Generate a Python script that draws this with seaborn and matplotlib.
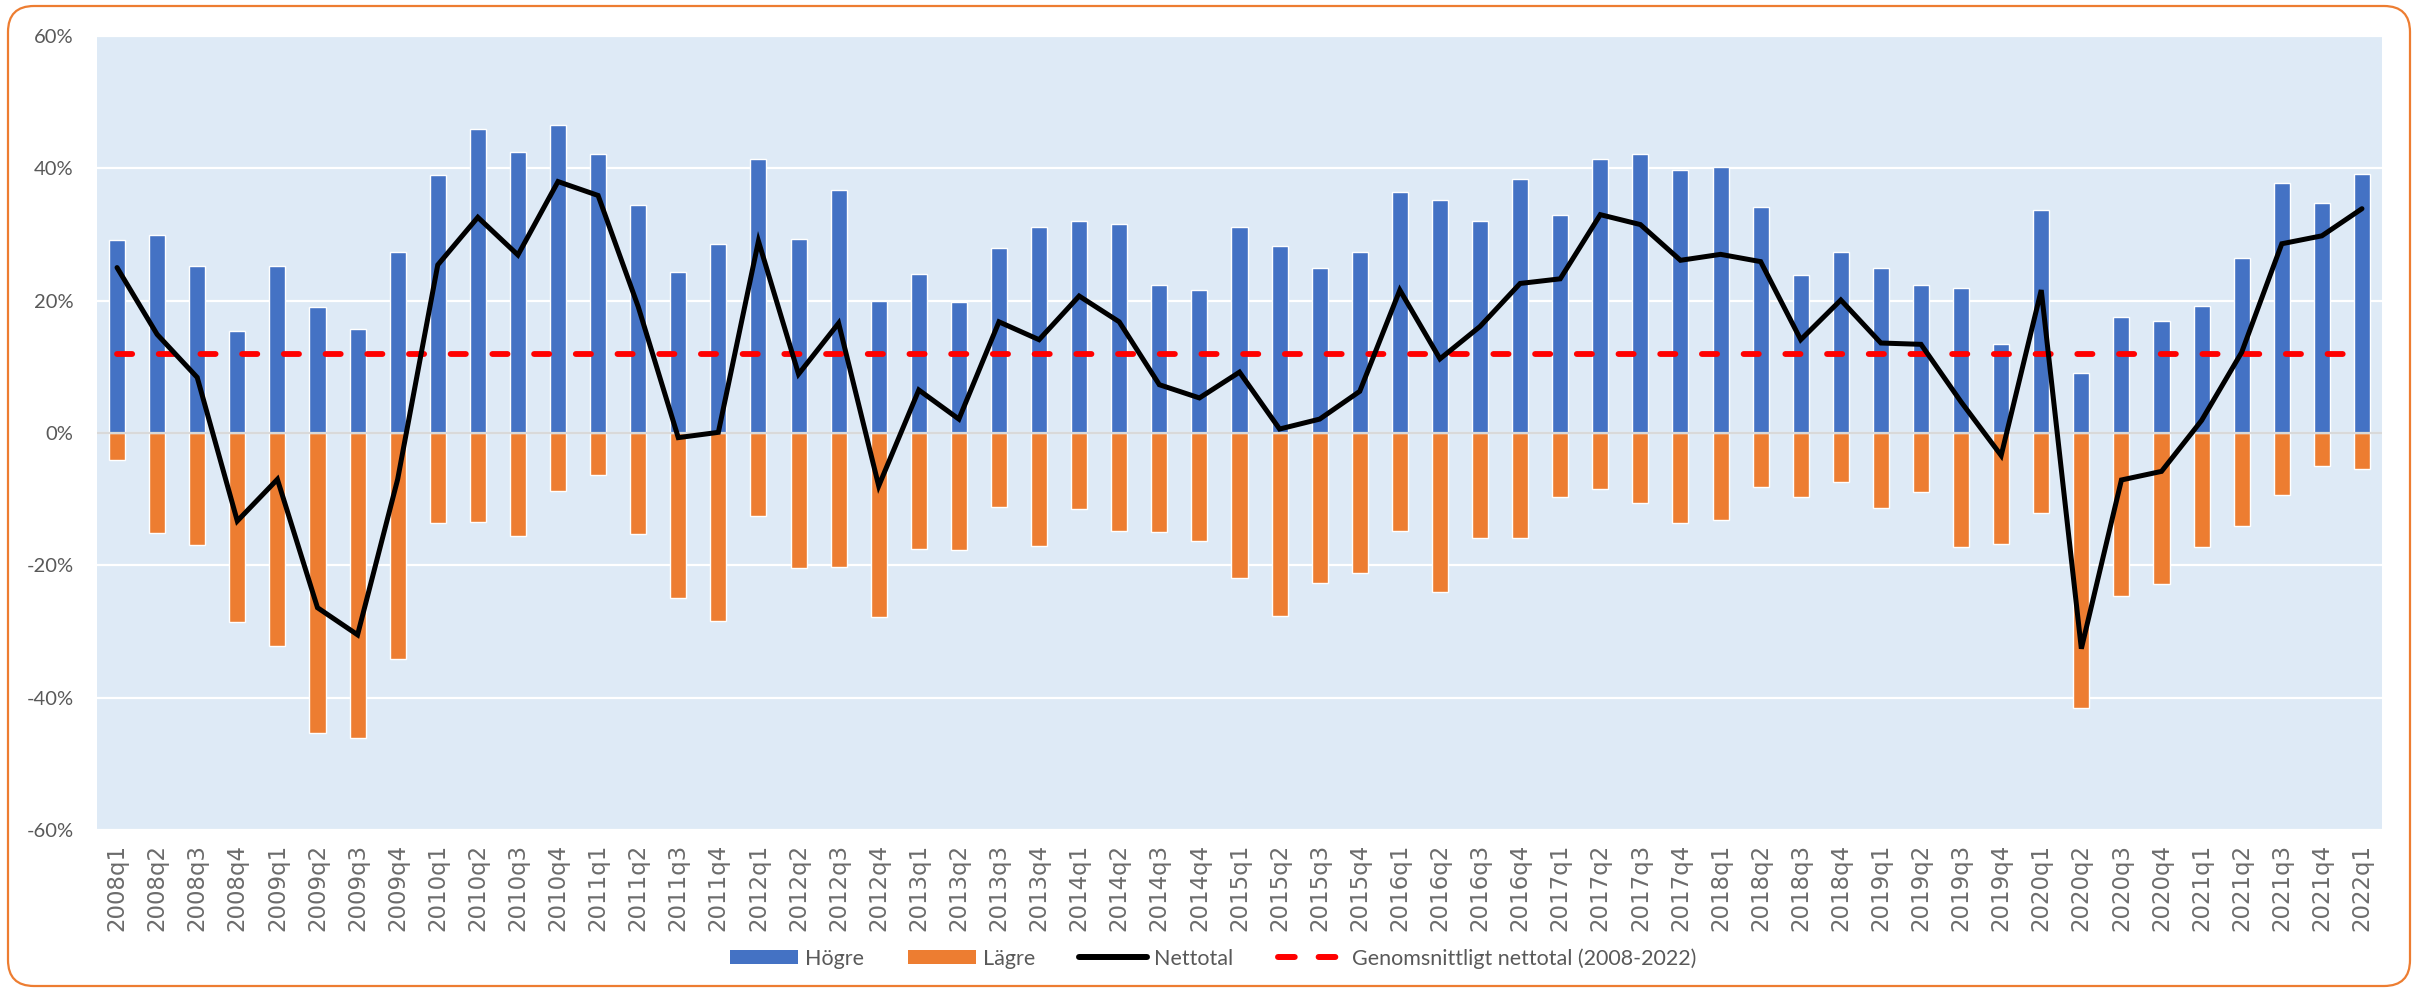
import numpy as np
import pandas as pd
import matplotlib
matplotlib.use("Agg")
import matplotlib.pyplot as plt
import seaborn as sns
from matplotlib.patches import FancyBboxPatch, Patch
from matplotlib.lines import Line2D
from matplotlib.transforms import IdentityTransform
from matplotlib.ticker import FixedLocator, FuncFormatter

# Quarterly share of answers (percent)
quarters = [f"{y}q{q}" for y in range(2008, 2023) for q in range(1, 5)][:57]

hogre = [29.1, 30.0, 25.3, 15.4, 25.2, 19.0, 15.7, 27.3,
         39.0, 46.0, 42.5, 46.6, 42.2, 34.4, 24.3, 28.5,
         41.4, 29.3, 36.8, 19.9, 24.0, 19.8, 27.9, 31.2,
         32.1, 31.6, 22.3, 21.6, 31.1, 28.2, 24.9, 27.4,
         36.4, 35.2, 32.1, 38.4, 33.0, 41.4, 42.1, 39.7,
         40.2, 34.1, 23.9, 27.4, 25.0, 22.3, 21.9, 13.5,
         33.7, 9.0, 17.5, 17.0, 19.2, 26.4, 37.8, 34.8,
         39.2]

lagre = [-4.1, -15.1, -17.0, -28.6, -32.2, -45.4, -46.1, -34.2,
         -13.6, -13.5, -15.6, -8.7, -6.3, -15.2, -25.0, -28.4,
         -12.5, -20.4, -20.3, -27.8, -17.6, -17.7, -11.2, -17.1,
         -11.5, -14.8, -15.0, -16.3, -21.9, -27.6, -22.7, -21.1,
         -14.8, -24.0, -15.9, -15.8, -9.7, -8.4, -10.6, -13.6,
         -13.2, -8.2, -9.7, -7.4, -11.4, -8.9, -17.3, -16.8,
         -12.1, -41.5, -24.6, -22.8, -17.2, -14.0, -9.3, -5.0,
         -5.4]

netto = [25.0, 14.9, 8.4, -13.3, -7.0, -26.4, -30.5, -7.0,
         25.4, 32.6, 26.9, 38.0, 35.9, 19.1, -0.7, 0.1,
         29.0, 8.9, 16.6, -8.0, 6.5, 2.1, 16.8, 14.1,
         20.7, 16.8, 7.3, 5.3, 9.2, 0.6, 2.1, 6.3,
         21.6, 11.2, 16.1, 22.6, 23.3, 33.0, 31.5, 26.1,
         27.0, 25.9, 14.1, 20.1, 13.6, 13.4, 4.7, -3.4,
         21.6, -32.6, -7.1, -5.8, 1.9, 12.2, 28.6, 29.8,
         33.9]

y_ticks = [-60, -40, -20, 0, 20, 40, 60]

BLUE = "#4472C4"
ORANGE = "#ED7D31"
GRAY_TXT = "#595959"
SANS = ["Lato", "DejaVu Sans"]

df = pd.DataFrame({"kvartal": quarters, "Högre": hogre,
                   "Lägre": lagre, "Nettotal": netto})
df["pos"] = np.arange(len(df))
avg_net = float(np.mean(netto))

sns.set_theme(style="white")
plt.rcParams["font.family"] = SANS

W, H, DPI = 2422, 992, 100
fig = plt.figure(figsize=(W / DPI, H / DPI), dpi=DPI)
fig.patch.set_facecolor("white")
ax = fig.add_axes([97 / W, 1 - 830 / H, (2382 - 97) / W, (830 - 36) / H])
ax.set_facecolor("#DEEAF6")

sns.barplot(data=df, x="kvartal", y="Högre", color=BLUE, width=0.4,
            saturation=1, ax=ax, zorder=2)
sns.barplot(data=df, x="kvartal", y="Lägre", color=ORANGE, width=0.4,
            saturation=1, ax=ax, zorder=2)
ax.axhline(0, color="#D9D9D9", lw=1.6, zorder=3)

sns.lineplot(data=df, x="pos", y="Nettotal", color="black", lw=3.6,
             ax=ax, zorder=5, solid_joinstyle="miter")
sns.lineplot(x=df["pos"], y=np.full(len(df), avg_net), color="#FF0000",
             lw=4.2, linestyle=(0, (2.6, 4.55)), dash_capstyle="round",
             ax=ax, zorder=4)

ax.set_xlim(-0.5, len(df) - 0.5)
ax.set_ylim(-60, 60)
ax.yaxis.set_major_locator(FixedLocator(y_ticks))
ax.yaxis.set_major_formatter(FuncFormatter(lambda v, _: f"{v:.0f}%"))
ax.grid(axis="y", color="white", lw=1.6, zorder=0)
ax.grid(axis="x", visible=False)
ax.set_axisbelow(True)
for s in ax.spines.values():
    s.set_visible(False)
ax.set_xlabel("")
ax.set_ylabel("")
ax.tick_params(axis="y", length=0, pad=17, labelsize=14.5, labelcolor=GRAY_TXT)
ax.tick_params(axis="x", length=0, pad=10, labelsize=16.5, labelcolor="#6b6b6b")
for lab in ax.get_yticklabels():
    lab.set_fontfamily(SANS)
ax.set_xticks(df["pos"])
ax.set_xticklabels(quarters, rotation=90, fontfamily="DejaVu Sans")

handles = [
    Patch(facecolor=BLUE, edgecolor="none", label="Högre"),
    Patch(facecolor=ORANGE, edgecolor="none", label="Lägre"),
    Line2D([], [], color="black", lw=4.3, solid_capstyle="round", label="Nettotal"),
    Line2D([], [], color="#FF0000", lw=4.3, linestyle=(0, (2.8, 4.0)),
           dash_capstyle="round", label="Genomsnittligt nettotal (2008-2022)"),
]
leg = fig.legend(handles=handles, loc="center", bbox_to_anchor=(0.501, 0.034),
                 ncol=4, frameon=False, handlelength=3.15,
                 handleheight=0.65, handletextpad=0.33, columnspacing=2.05,
                 prop={"family": SANS, "size": 15.5})
for t in leg.get_texts():
    t.set_color(GRAY_TXT)

# rounded chart-area border
border = FancyBboxPatch((8, 6), 2402, 980,
                        boxstyle="round,pad=0,rounding_size=26",
                        transform=IdentityTransform(), fill=False,
                        edgecolor=ORANGE, lw=1.6)
fig.patches.append(border)

fig.savefig("out.png", dpi=DPI, facecolor="white")
